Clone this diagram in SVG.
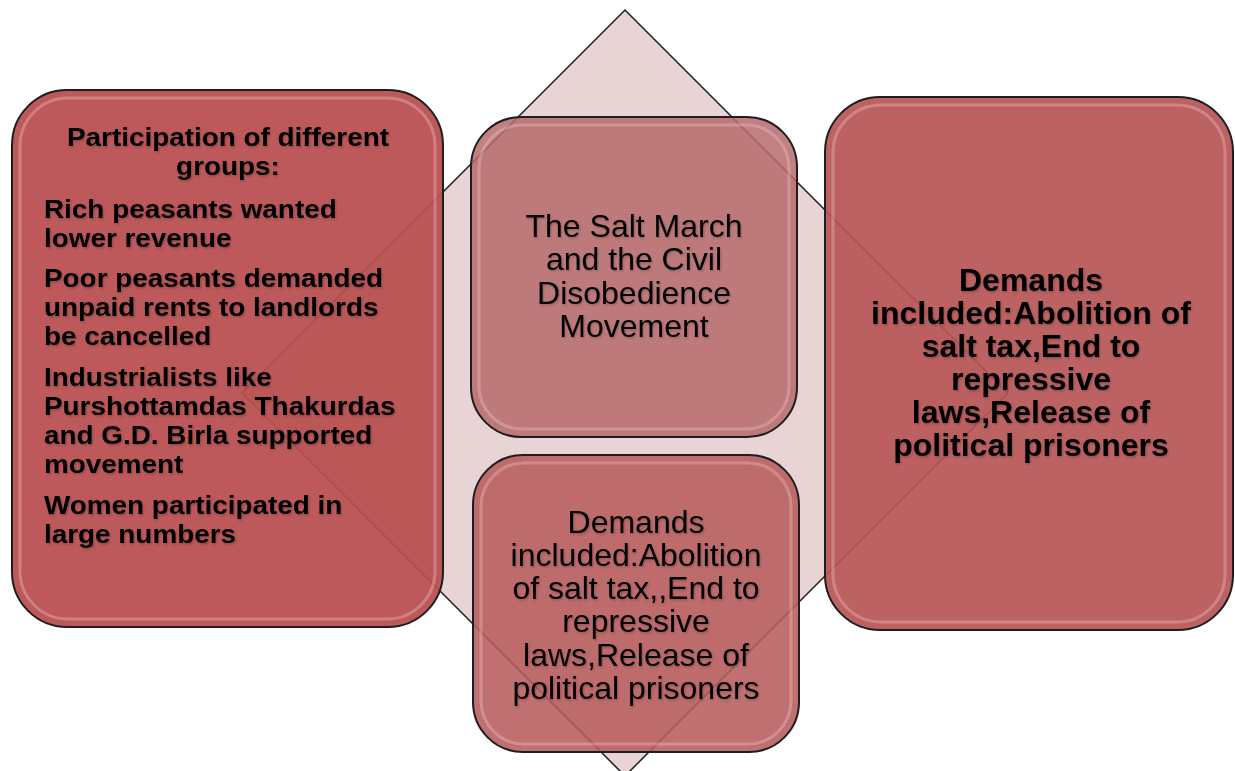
<svg xmlns="http://www.w3.org/2000/svg" width="1235" height="771" viewBox="0 0 1235 771">
<style>
.box{stroke:#1e1e1e;stroke-width:2}
.hl{fill:none;stroke:#f2c8c8;stroke-width:3;opacity:0.35}
.t{font-family:"Liberation Sans",Arial,sans-serif;fill:#000;filter:url(#ts)}
.b{font-weight:bold}
.l{font-size:25px;font-weight:bold}
.c{font-size:32px;text-anchor:middle}
</style>
<defs>
<filter id="ts" x="-5%" y="-20%" width="110%" height="140%">
<feDropShadow dx="1" dy="1.5" stdDeviation="1" flood-color="#000" flood-opacity="0.22"/>
</filter>
</defs>
<rect width="1235" height="771" fill="#fff"/>
<g id="diamond">
<polygon points="625,10 1008,393 625,776 242,393" fill="#e8d4d5" stroke="#1e1e1e" stroke-width="1.5"/>
</g>
<g id="connectors"></g>
<g id="node-left">
<rect class="box" x="12" y="90" width="431" height="537" rx="55" fill="#b94f50" fill-opacity="0.94"/>
<rect class="hl" x="20" y="98" width="415" height="521" rx="48"/>
<g transform="translate(44,0) scale(1.115,1)">
<text class="t l" text-anchor="middle" x="165" y="146">Participation of different</text>
<text class="t l" text-anchor="middle" x="165" y="175">groups:</text>
<text class="t l" x="0" y="218">Rich peasants wanted</text>
<text class="t l" x="0" y="247">lower revenue</text>
<text class="t l" x="0" y="287">Poor peasants demanded</text>
<text class="t l" x="0" y="316">unpaid rents to landlords</text>
<text class="t l" x="0" y="345">be cancelled</text>
<text class="t l" x="0" y="386">Industrialists like</text>
<text class="t l" x="0" y="415">Purshottamdas Thakurdas</text>
<text class="t l" x="0" y="444">and G.D. Birla supported</text>
<text class="t l" x="0" y="473">movement</text>
<text class="t l" x="0" y="514">Women participated in</text>
<text class="t l" x="0" y="543">large numbers</text>
</g>
</g>
<g id="node-center-top">
<rect class="box" x="471" y="117" width="326" height="320" rx="50" fill="#b66a6b" fill-opacity="0.85"/>
<rect class="hl" x="479" y="125" width="310" height="304" rx="43"/>
<text class="t c" x="634" y="237">The Salt March</text>
<text class="t c" x="634" y="270">and the Civil</text>
<text class="t c" x="634" y="304">Disobedience</text>
<text class="t c" x="634" y="337">Movement</text>
</g>
<g id="node-center-bottom">
<rect class="box" x="473" y="455" width="326" height="297" rx="50" fill="#b75c5d" fill-opacity="0.88"/>
<rect class="hl" x="481" y="463" width="310" height="281" rx="43"/>
<text class="t c" x="636" y="533">Demands</text>
<text class="t c" x="636" y="566">included:Abolition</text>
<text class="t c" x="636" y="599">of salt tax,,End to</text>
<text class="t c" x="636" y="632">repressive</text>
<text class="t c" x="636" y="666">laws,Release of</text>
<text class="t c" x="636" y="699">political prisoners</text>
</g>
<g id="node-right">
<rect class="box" x="825" y="97" width="408" height="533" rx="55" fill="#b75556" fill-opacity="0.92"/>
<rect class="hl" x="833" y="105" width="392" height="517" rx="48"/>
<text class="t c b" x="1031" y="291">Demands</text>
<text class="t c b" x="1031" y="324">included:Abolition of</text>
<text class="t c b" x="1031" y="357">salt tax,End to</text>
<text class="t c b" x="1031" y="390">repressive</text>
<text class="t c b" x="1031" y="423">laws,Release of</text>
<text class="t c b" x="1031" y="456">political prisoners</text>
</g>
</svg>
